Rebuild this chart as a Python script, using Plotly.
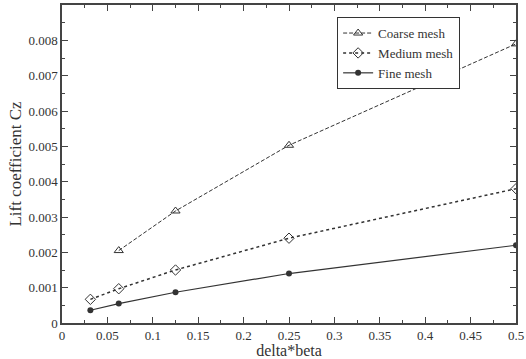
import plotly.graph_objects as go

coarse_x = [0.0625, 0.125, 0.25, 0.5]
coarse_y = [0.00205, 0.00317, 0.00503, 0.0079]
medium_x = [0.03125, 0.0625, 0.125, 0.25, 0.5]
medium_y = [0.00067, 0.00097, 0.0015, 0.0024, 0.0038]
fine_x = [0.03125, 0.0625, 0.125, 0.25, 0.5]
fine_y = [0.00036, 0.00055, 0.00087, 0.0014, 0.0022]

x_ticks = [0, 0.05, 0.1, 0.15, 0.2, 0.25, 0.3, 0.35, 0.4, 0.45, 0.5]
x_labels = ["0", "0.05", "0.1", "0.15", "0.2", "0.25", "0.3", "0.35", "0.4", "0.45", "0.5"]
y_ticks = [0, 0.001, 0.002, 0.003, 0.004, 0.005, 0.006, 0.007, 0.008]
y_labels = ["0", "0.001", "0.002", "0.003", "0.004", "0.005", "0.006", "0.007", "0.008"]

serif = "Liberation Serif"
col = "#333333"
fig = go.Figure()
fig.add_trace(go.Scatter(x=coarse_x, y=coarse_y, name="Coarse mesh", mode="lines+markers",
                         line=dict(color=col, width=1, dash="4px,2px"),
                         marker=dict(symbol="triangle-up-open", size=8, color=col, line=dict(width=1))))
fig.add_trace(go.Scatter(x=medium_x, y=medium_y, name="Medium mesh", mode="lines+markers",
                         line=dict(color=col, width=1.5, dash="dot"),
                         marker=dict(symbol="diamond-open", size=8, color=col, line=dict(width=1))))
fig.add_trace(go.Scatter(x=fine_x, y=fine_y, name="Fine mesh", mode="lines+markers",
                         line=dict(color=col, width=1.2),
                         marker=dict(symbol="circle", size=6, color=col)))

axis_common = dict(showgrid=False, zeroline=False, showline=True, linecolor="#444444", linewidth=1.5,
                   mirror="allticks", ticks="inside", ticklen=6, tickcolor="#444444", automargin=False,
                   tickfont=dict(family=serif, size=13, color="#333333"))
fig.update_xaxes(range=[0, 0.5], tickvals=x_ticks, ticktext=x_labels,
                 minor=dict(ticks="inside", ticklen=3, dtick=0.025, tick0=0, tickcolor="#444444"),
                 title=dict(text="delta*beta", font=dict(family=serif, size=16, color="#333333"), standoff=3),
                 **axis_common)
fig.update_yaxes(range=[0, 0.009], tickvals=y_ticks, ticktext=y_labels,
                 minor=dict(ticks="inside", ticklen=3, dtick=0.0005, tick0=0, tickcolor="#444444"),
                 title=dict(text="Lift coefficient Cz", font=dict(family=serif, size=17, color="#333333"), standoff=2),
                 **axis_common)
fig.update_layout(width=526, height=359, margin=dict(l=62, r=10, t=5, b=36, autoexpand=False),
                  paper_bgcolor="white", plot_bgcolor="white",
                  legend=dict(x=0.606, y=0.962, xanchor="left", yanchor="top",
                              bordercolor="#333333", borderwidth=1, bgcolor="white",
                              font=dict(family=serif, size=13, color="#333333"),
                              tracegroupgap=0, itemwidth=30),
                  showlegend=True)
fig.write_html("out.html", config={"displayModeBar": False},
               post_script="document.body.style.margin='0';document.body.style.overflow='hidden';")
